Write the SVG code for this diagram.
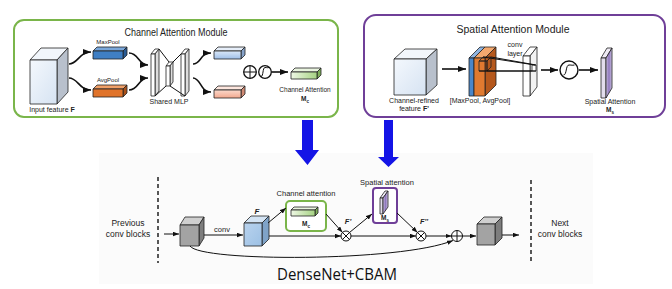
<svg xmlns="http://www.w3.org/2000/svg" width="672" height="289" viewBox="0 0 672 289">
  <defs>
    <style>
      .t { font-family: "Liberation Sans", Arial, sans-serif; fill: #222; }
      .ln { fill: none; stroke: #111; stroke-width: 1; }
      .cv { fill: none; stroke: #111; stroke-width: 1.6; }
      .edge { stroke: #222; stroke-width: 0.8; stroke-linejoin: round; }
      .bigarrow { fill: #1414e6; }
      .dash { stroke: #111; stroke-width: 1.4; stroke-dasharray: 4,3; }
    </style>
    <marker id="ah" viewBox="0 0 8 6" refX="8" refY="3" markerWidth="6" markerHeight="5" orient="auto" markerUnits="userSpaceOnUse">
      <path d="M0,0 L8,3 L0,6 z" fill="#111"/>
    </marker>
    <marker id="ahb" viewBox="0 0 8 6" refX="8" refY="3" markerWidth="8" markerHeight="6" orient="auto" markerUnits="userSpaceOnUse">
      <path d="M0,0 L8,3 L0,6 z" fill="#111"/>
    </marker>
    <linearGradient id="gIn" x1="0" y1="0" x2="1" y2="1">
      <stop offset="0" stop-color="#f4f8fd"/>
      <stop offset="1" stop-color="#d6e3f2"/>
    </linearGradient>
    <linearGradient id="gBlueOut" x1="0" y1="0" x2="0" y2="1">
      <stop offset="0" stop-color="#dbe8f8"/>
      <stop offset="1" stop-color="#9fbfe8"/>
    </linearGradient>
    <linearGradient id="gSalmon" x1="0" y1="0" x2="0" y2="1">
      <stop offset="0" stop-color="#fbd9cc"/>
      <stop offset="1" stop-color="#f2a88e"/>
    </linearGradient>
    <linearGradient id="gGreen" x1="0" y1="0" x2="1" y2="0">
      <stop offset="0" stop-color="#eef7e4"/>
      <stop offset="1" stop-color="#a6d383"/>
    </linearGradient>
    <linearGradient id="gPurple" x1="0" y1="0" x2="1" y2="0">
      <stop offset="0" stop-color="#c9bde0"/>
      <stop offset="0.5" stop-color="#8f78bd"/>
      <stop offset="1" stop-color="#cfc4e4"/>
    </linearGradient>
    <linearGradient id="gFace" x1="0" y1="0" x2="1" y2="1">
      <stop offset="0" stop-color="#b9d3ee"/>
      <stop offset="1" stop-color="#9cc0e4"/>
    </linearGradient>
  </defs>

  <!-- backdrop of the DenseNet block -->
  <rect x="99" y="153" width="494" height="131" fill="#fbfbfb"/>

  <!-- ================= Channel Attention Module ================= -->
  <g id="channel-module">
    <rect x="14" y="20" width="324" height="97" rx="10" fill="#fff" stroke="#7ab54a" stroke-width="2"/>
    <text class="t" x="176" y="36" font-size="10" text-anchor="middle" textLength="103" lengthAdjust="spacingAndGlyphs">Channel Attention Module</text>
  </g>

  <g id="input-feature">
    <polygon class="edge" points="30,60 41,48 68,48 57,60" fill="#f2f6fb"/>
    <polygon class="edge" points="57,60 68,48 68,92 57,104" fill="#b8c0cc"/>
    <rect class="edge" x="30" y="60" width="27" height="44" fill="url(#gIn)"/>
    <text class="t" x="52" y="112" font-size="7" text-anchor="middle">Input feature <tspan font-weight="bold">F</tspan></text>
  </g>

  <g id="maxpool">
    <polygon class="edge" points="93,51 97,47 127,47 123,51" fill="#7aa7da"/>
    <polygon class="edge" points="123,51 127,47 127,55 123,59" fill="#2b5c94"/>
    <rect class="edge" x="93" y="51" width="30" height="8" fill="#3f7fc4"/>
    <text class="t" x="108" y="44" font-size="6" text-anchor="middle">MaxPool</text>
  </g>

  <g id="avgpool">
    <polygon class="edge" points="93,89 97,85 127,85 123,89" fill="#f0a068"/>
    <polygon class="edge" points="123,89 127,85 127,93 123,97" fill="#a8501a"/>
    <rect class="edge" x="93" y="89" width="30" height="8" fill="#e0732a"/>
    <text class="t" x="108" y="82" font-size="6" text-anchor="middle">AvgPool</text>
  </g>

  <g id="shared-mlp">
    <!-- layer plates -->
    <polygon class="edge" points="151,54 155,49 159,49 155,54" fill="#fff"/>
    <polygon class="edge" points="155,54 159,49 159,91 155,96" fill="#ddd"/>
    <rect class="edge" x="151" y="54" width="4" height="42" fill="#fff"/>
    <polygon class="edge" points="166,66 169,62 173,62 170,66" fill="#fff"/>
    <polygon class="edge" points="170,66 173,62 173,82 170,86" fill="#ddd"/>
    <rect class="edge" x="166" y="66" width="4" height="20" fill="#fff"/>
    <polygon class="edge" points="181,54 185,49 189,49 185,54" fill="#fff"/>
    <polygon class="edge" points="185,54 189,49 189,91 185,96" fill="#ddd"/>
    <rect class="edge" x="181" y="54" width="4" height="42" fill="#fff"/>
    <!-- connections between layers -->
    <path class="ln" stroke-width="0.8" d="M159,49 L169,62 M155,96 L166,86 M173,62 L181,54 M170,86 L185,96"/>
    <text class="t" x="169" y="104" font-size="7" text-anchor="middle">Shared MLP</text>
  </g>

  <g id="mlp-out-max">
    <polygon class="edge" points="214,51 218,47 245,47 241,51" fill="#e6eef9"/>
    <polygon class="edge" points="241,51 245,47 245,55 241,59" fill="#86a2c9"/>
    <rect class="edge" x="214" y="51" width="27" height="8" fill="url(#gBlueOut)"/>
  </g>

  <g id="mlp-out-avg">
    <polygon class="edge" points="214,90 218,86 245,86 241,90" fill="#fde6de"/>
    <polygon class="edge" points="241,90 245,86 245,94 241,98" fill="#d08a74"/>
    <rect class="edge" x="214" y="90" width="27" height="8" fill="url(#gSalmon)"/>
  </g>

  <g id="channel-sum">
    <circle cx="250" cy="72" r="6.3" fill="#fff" stroke="#111" stroke-width="1.3"/>
    <path class="ln" stroke-width="1.3" d="M243.7,72 H256.3 M250,65.7 V78.3"/>
  </g>

  <g id="channel-sigmoid">
    <circle cx="265" cy="72" r="6.3" fill="#fff" stroke="#111" stroke-width="1.3"/>
    <path class="ln" stroke-width="1.2" d="M261,76.5 C263.5,76.5 262.5,67.5 265,67.5 S 266.5,68 269,67.5"/>
  </g>

  <g id="channel-attention-map">
    <polygon class="edge" points="291,72 295,68 321,68 317,72" fill="#e9f4df"/>
    <polygon class="edge" points="317,72 321,68 321,75 317,79" fill="#7fae5c"/>
    <rect class="edge" x="291" y="72" width="26" height="7" fill="url(#gGreen)"/>
    <text class="t" x="305" y="92" font-size="6.5" text-anchor="middle">Channel Attention</text>
    <text class="t" x="305" y="101" font-size="6.5" font-weight="bold" text-anchor="middle">M<tspan font-size="4.5" dy="1.5">c</tspan></text>
  </g>

  <!-- ================= Spatial Attention Module ================= -->
  <g id="spatial-module">
    <rect x="364" y="15" width="301" height="102" rx="12" fill="#fff" stroke="#6f3f98" stroke-width="2"/>
    <text class="t" x="513" y="33" font-size="10" text-anchor="middle" textLength="113" lengthAdjust="spacingAndGlyphs">Spatial Attention Module</text>
  </g>

  <g id="refined-feature">
    <polygon class="edge" points="394,59 405,49 437,49 426,59" fill="#f2f6fb"/>
    <polygon class="edge" points="426,59 437,49 437,85 426,95" fill="#b8c0cc"/>
    <rect class="edge" x="394" y="59" width="32" height="36" fill="url(#gIn)"/>
    <text class="t" x="414" y="103" font-size="7" text-anchor="middle">Channel-refined</text>
    <text class="t" x="414" y="111" font-size="7" text-anchor="middle">feature <tspan font-weight="bold">F'</tspan></text>
  </g>

  <g id="pooled-maps">
    <!-- max-pooled plate -->
    <polygon class="edge" points="469,58 480,47 485,47 474,58" fill="#8fb4e0"/>
    <rect class="edge" x="469" y="58" width="5" height="38" fill="#4a86c8"/>
    <!-- avg-pooled plate -->
    <polygon class="edge" points="474,58 485,47 496,47 485,58" fill="#f3a86e"/>
    <polygon class="edge" points="485,58 496,47 496,85 485,96" fill="#b5581c"/>
    <rect class="edge" x="474" y="58" width="11" height="38" fill="#e07a30"/>
    <!-- kernel window -->
    <polygon class="edge" points="479,61 483,57 491,57 487,61" fill="none"/>
    <polygon class="edge" points="487,61 491,57 491,67 487,71" fill="none"/>
    <rect class="edge" x="479" y="61" width="8" height="10" fill="none"/>
    <text class="t" x="480" y="103" font-size="7" text-anchor="middle">[MaxPool, AvgPool]</text>
  </g>

  <g id="conv-layer">
    <polygon class="edge" points="523,56 530,47 537,47 530,56" fill="#fff"/>
    <polygon class="edge" points="530,56 537,47 537,87 530,96" fill="#f2f2f2"/>
    <rect class="edge" x="523" y="56" width="7" height="40" fill="#fff"/>
    <rect class="edge" x="532" y="65" width="4" height="6" fill="#fff"/>
    <text class="t" x="515" y="47" font-size="7" text-anchor="middle">conv</text>
    <text class="t" x="515" y="56" font-size="7" text-anchor="middle">layer</text>
  </g>

  <g id="spatial-sigmoid">
    <circle cx="569" cy="70" r="9" fill="#fff" stroke="#111" stroke-width="1.4"/>
    <path class="ln" stroke-width="1.3" d="M563.5,75 C567,75 565.5,65 569,65 S 571.5,65.5 574.5,65"/>
  </g>

  <g id="spatial-attention-map">
    <polygon class="edge" points="601,58 607,48 612,48 606,58" fill="#eeeaf4"/>
    <polygon class="edge" points="601,58 606,58 606,98 601,98" fill="#e2ddec"/>
    <polygon class="edge" points="606,58 612,48 612,88 606,98" fill="url(#gPurple)"/>
    <text class="t" x="610" y="104" font-size="7" text-anchor="middle">Spatial Attention</text>
    <text class="t" x="610" y="112" font-size="6.5" font-weight="bold" text-anchor="middle">M<tspan font-size="4.5" dy="1.5">s</tspan></text>
  </g>

  <!-- ================= DenseNet + CBAM block ================= -->
  <g id="prev-blocks">
    <text class="t" x="128" y="226" font-size="8.5" text-anchor="middle">Previous</text>
    <text class="t" x="128" y="237" font-size="8.5" text-anchor="middle">conv blocks</text>
  </g>

  <g id="next-blocks">
    <text class="t" x="560" y="226" font-size="8.5" text-anchor="middle">Next</text>
    <text class="t" x="560" y="237" font-size="8.5" text-anchor="middle">conv blocks</text>
  </g>

  <g id="input-block">
    <polygon class="edge" points="180,225 185,217 204,217 199,225" fill="#cfcfcf"/>
    <polygon class="edge" points="199,225 204,217 204,238 199,246" fill="#7d7d7d"/>
    <rect class="edge" x="180" y="225" width="19" height="21" fill="#a3a3a3"/>
  </g>

  <g id="feature-F">
    <polygon class="edge" points="244,223 251,216 269,216 262,223" fill="#d4e4f4"/>
    <polygon class="edge" points="262,223 269,216 269,239 262,246" fill="#7fa3c8"/>
    <rect class="edge" x="244" y="223" width="18" height="23" fill="url(#gFace)"/>
    <text class="t" x="257" y="214" font-size="8" font-weight="bold" font-style="italic" text-anchor="middle">F</text>
  </g>

  <g id="channel-attention">
    <rect x="286" y="201" width="40" height="30" rx="4" fill="#fff" stroke="#7ab54a" stroke-width="2"/>
    <polygon class="edge" points="291,210 294,207 318,207 315,210" fill="#e9f4df"/>
    <polygon class="edge" points="315,210 318,207 318,213 315,216" fill="#7fae5c"/>
    <rect class="edge" x="291" y="210" width="24" height="6" fill="url(#gGreen)"/>
    <text class="t" x="306" y="226" font-size="6.5" font-weight="bold" text-anchor="middle">M<tspan font-size="4.5" dy="1.5">c</tspan></text>
    <text class="t" x="306" y="196" font-size="7.5" text-anchor="middle">Channel attention</text>
  </g>

  <g id="spatial-attention">
    <rect x="373" y="188" width="24" height="35" rx="3" fill="#fff" stroke="#6f3f98" stroke-width="2"/>
    <polygon class="edge" points="380,198 385,191 388,191 383,198" fill="#eeeaf4"/>
    <polygon class="edge" points="380,198 383,198 383,214 380,214" fill="#e2ddec"/>
    <polygon class="edge" points="383,198 388,191 388,207 383,214" fill="url(#gPurple)"/>
    <text class="t" x="385" y="220" font-size="6.5" font-weight="bold" text-anchor="middle">M<tspan font-size="4.5" dy="1.5">s</tspan></text>
    <text class="t" x="387" y="185" font-size="7.5" text-anchor="middle">Spatial attention</text>
  </g>

  <g id="mult-1">
    <circle cx="346" cy="236" r="5" fill="#fff" stroke="#111" stroke-width="1"/>
    <path class="ln" d="M342.5,232.5 L349.5,239.5 M349.5,232.5 L342.5,239.5"/>
    <text class="t" x="348" y="224" font-size="7.5" font-weight="bold" font-style="italic" text-anchor="middle">F'</text>
  </g>

  <g id="mult-2">
    <circle cx="421" cy="236" r="5" fill="#fff" stroke="#111" stroke-width="1"/>
    <path class="ln" d="M417.5,232.5 L424.5,239.5 M424.5,232.5 L417.5,239.5"/>
    <text class="t" x="424" y="224" font-size="7.5" font-weight="bold" font-style="italic" text-anchor="middle">F''</text>
  </g>

  <g id="residual-sum">
    <circle cx="457" cy="236" r="5.5" fill="#fff" stroke="#111" stroke-width="1"/>
    <path class="ln" d="M451.5,236 H462.5 M457,230.5 V241.5"/>
  </g>

  <g id="output-block">
    <polygon class="edge" points="477,224 484,217 502,217 495,224" fill="#cfcfcf"/>
    <polygon class="edge" points="495,224 502,217 502,238 495,245" fill="#7d7d7d"/>
    <rect class="edge" x="477" y="224" width="18" height="21" fill="#a3a3a3"/>
  </g>

  <g id="title">
    <text x="337" y="280" font-family="'Open Sans', 'Liberation Sans', sans-serif" font-size="15.5" fill="#111" text-anchor="middle" textLength="120" lengthAdjust="spacingAndGlyphs">DenseNet+CBAM</text>
  </g>

  <!-- ================= connectors ================= -->
  <g id="connectors">
    <!-- channel module -->
    <path class="cv" marker-end="url(#ahb)" d="M69,64 C78,64 79,52 91,52"/>
    <path class="cv" marker-end="url(#ahb)" d="M69,78 C78,78 79,90 91,90"/>
    <path class="cv" marker-end="url(#ahb)" d="M129,53 C139,53 138,65 148,65"/>
    <path class="cv" marker-end="url(#ahb)" d="M129,90 C139,90 138,78 148,78"/>
    <path class="cv" marker-end="url(#ahb)" d="M193,64 C201,64 200,53 211,53"/>
    <path class="cv" marker-end="url(#ahb)" d="M193,78 C201,78 200,92 211,92"/>
    <path class="cv" marker-end="url(#ahb)" d="M271.5,72 H288"/>

    <!-- spatial module -->
    <path class="cv" marker-end="url(#ahb)" d="M442,69 H466"/>
    <path class="ln" stroke-width="0.9" d="M483,57 L535,65 M491,57 L536,65 M479,71 L532,71 M487,71 L536,71"/>
    <path class="cv" marker-end="url(#ahb)" d="M541,70 H558"/>
    <path class="cv" marker-end="url(#ahb)" d="M579,70 H598"/>

    <!-- module-to-block arrows -->
    <polygon class="bigarrow" points="302,120 313,120 313,150 319,150 307.5,165 295,150 302,150"/>
    <polygon class="bigarrow" points="384,120 393,120 393,157 399,157 388.5,167 378,157 384,157"/>

    <!-- block boundaries -->
    <path class="dash" d="M158,177 V263"/>
    <path class="dash" d="M531,180 V263"/>

    <!-- main path -->
    <path class="ln" marker-end="url(#ah)" d="M164,234 H179"/>
    <path class="ln" marker-end="url(#ah)" d="M204,235 H243"/>
    <text class="t" x="222" y="232" font-size="7.5" text-anchor="middle">conv</text>
    <path class="ln" marker-end="url(#ah)" d="M268,223 L286,208"/>
    <path class="ln" marker-end="url(#ah)" d="M269,236 H341"/>
    <path class="ln" marker-end="url(#ah)" d="M326,214 L342.5,232.5"/>
    <path class="ln" marker-end="url(#ah)" d="M349.5,232.5 L372,214"/>
    <path class="ln" marker-end="url(#ah)" d="M351,236 H416"/>
    <path class="ln" marker-end="url(#ah)" d="M397,213 L417.5,232.5"/>
    <path class="ln" marker-end="url(#ah)" d="M426,236 H451.5"/>
    <path class="ln" marker-end="url(#ah)" d="M462.5,236 H476"/>
    <path class="ln" marker-end="url(#ah)" d="M502,235 H519"/>
    <!-- identity shortcut -->
    <path class="ln" stroke-width="1.2" marker-end="url(#ah)" d="M190,246 C200,262 400,262 453,240.5"/>
  </g>
</svg>
